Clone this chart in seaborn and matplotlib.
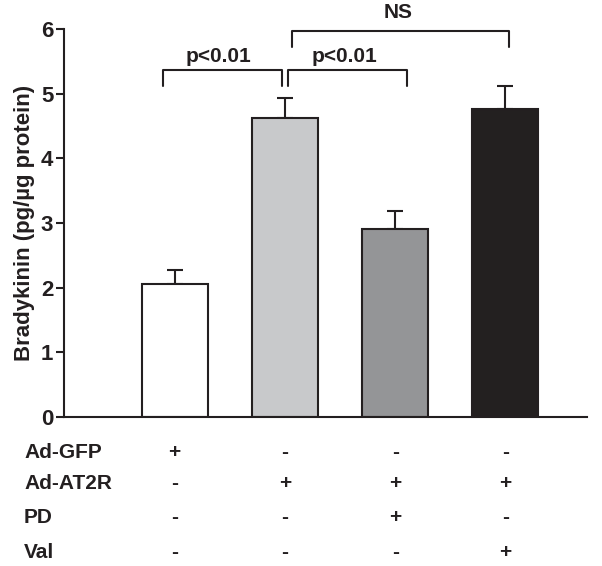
import matplotlib
matplotlib.use("Agg")
import matplotlib.pyplot as plt
import matplotlib.transforms as mtransforms
import seaborn as sns
import pandas as pd

# data
groups = ["GFP", "AT2R", "AT2R+PD", "AT2R+Val"]
bradykinin = [2.05, 4.62, 2.90, 4.76]
sem = [0.22, 0.32, 0.29, 0.37]
bar_colors = ["#ffffff", "#c8c9cb", "#939598", "#231f20"]

row_names = ["Ad-GFP", "Ad-AT2R", "PD", "Val"]
row_signs = [
    ["+", "-", "-", "-"],
    ["-", "+", "+", "+"],
    ["-", "-", "+", "-"],
    ["-", "-", "-", "+"],
]

sns.set_style("ticks")
plt.rcParams['font.family'] = ['Liberation Sans', 'DejaVu Sans']
plt.rcParams['font.weight'] = 'bold'

df = pd.DataFrame({"group": groups, "value": bradykinin})

fig = plt.figure(figsize=(6.02, 5.66), dpi=100)
ax = fig.add_axes([0.107, 0.264, 0.868, 0.684])

sns.barplot(data=df, x="group", y="value", hue="group", palette=bar_colors,
            order=groups, errorbar=None, width=0.6, edgecolor="#231f20",
            linewidth=1.5, legend=False, ax=ax, zorder=2)

ax.errorbar(range(len(groups)), bradykinin, yerr=[[0] * len(sem), sem],
            fmt="none", ecolor="#231f20", elinewidth=1.5, capsize=6,
            capthick=1.5, zorder=1)

ax.set_xlim(-1.0, 3.74)
ax.set_ylim(0, 6)
ax.set_yticks(range(7))
ax.set_xticks([])
ax.set_xlabel("")
ax.set_ylabel("Bradykinin (pg/µg protein)", fontsize=16, fontweight="bold",
              labelpad=4, color="#231f20")
ax.tick_params(axis="y", labelsize=16, width=1.5, length=6, colors="#231f20",
               pad=2)
for lab in ax.get_yticklabels():
    lab.set_fontweight("bold")
sns.despine(ax=ax)
for s in ["left", "bottom"]:
    ax.spines[s].set_linewidth(1.5)
    ax.spines[s].set_color("#231f20")


def bracket(x1, x2, y_top, y_leg, label, tx, ty):
    ax.plot([x1, x1, x2, x2], [y_leg, y_top, y_top, y_leg], color="#231f20",
            lw=1.5, clip_on=False)
    ax.text(tx, ty, label, ha="center", va="baseline", fontsize=15,
            fontweight="bold", color="#231f20", clip_on=False)


bracket(-0.11, 0.97, 5.37, 5.13, "p<0.01", 0.40, 5.49)
bracket(1.03, 2.11, 5.37, 5.13, "p<0.01", 1.54, 5.49)
bracket(1.06, 3.03, 5.97, 5.73, "NS", 2.03, 6.18)

# treatment table under the axis
row_y = [-0.092, -0.173, -0.261, -0.351]
lab_tr = mtransforms.blended_transform_factory(fig.transFigure, ax.transAxes)
for name, signs, yy in zip(row_names, row_signs, row_y):
    ax.text(0.040, yy, name, transform=lab_tr, ha="left", va="center",
            fontsize=15, fontweight="bold", color="#231f20")
    for i, s in enumerate(signs):
        ax.text(i, yy, s, transform=ax.get_xaxis_transform(), ha="center",
                va="center", fontsize=15, fontweight="bold", color="#231f20")

fig.savefig("out.png", dpi=100)
